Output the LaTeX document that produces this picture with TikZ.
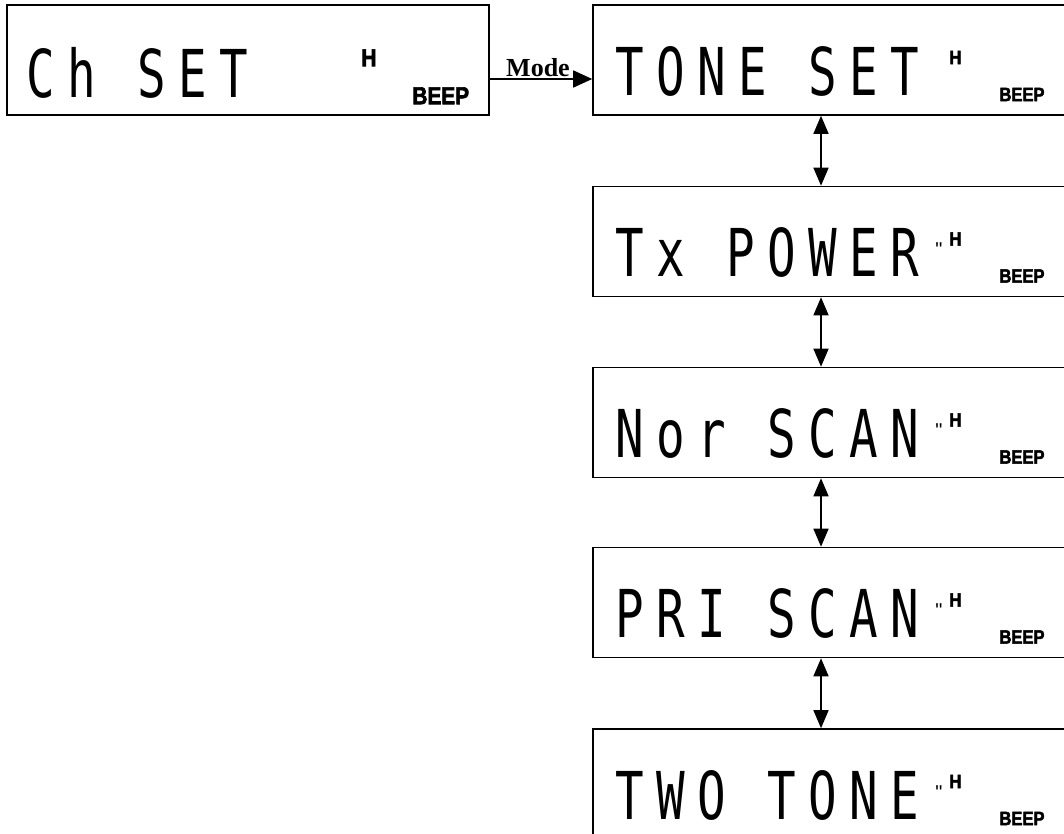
\documentclass[tikz,border=0pt]{standalone}
\usepackage{fontspec}
\setmainfont{Liberation Serif}
\newfontfamily\lcdfont[FakeStretch=0.72,LetterSpace=19]{DejaVu Sans Mono}
\newfontfamily\indfont[FakeStretch=0.85,FakeBold=2.5]{Liberation Sans Bold}
\newfontfamily\tickfont{Liberation Sans}
\usetikzlibrary{arrows.meta,calc}
\begin{document}
\begin{tikzpicture}[x=1pt,y=-1pt,
  lcdbox/.style={draw, line width=1.6pt, rectangle, minimum width=482pt, minimum height=110pt, inner sep=0pt},
  lcdtext/.style={anchor=base west, inner sep=0pt, font=\lcdfont\fontsize{66}{66}\selectfont},
  bigind/.style={anchor=base west, inner sep=0pt, font=\indfont\fontsize{24.5}{25}\selectfont},
  smallind/.style={anchor=base west, inner sep=0pt, font=\indfont\fontsize{19.5}{20}\selectfont},
  tick/.style={anchor=base west, inner sep=0pt, font=\tickfont\fontsize{20}{20}\selectfont},
  modelabel/.style={anchor=base west, inner sep=0pt, font=\bfseries\fontsize{26}{26}\selectfont},
  link/.style={line width=1.6pt, -{Triangle[length=19pt,width=17pt]}},
  dlink/.style={line width=1.6pt, {Triangle[length=18pt,width=15pt]}-{Triangle[length=18pt,width=15pt]}},
]
\useasboundingbox (0,0) rectangle (1064,834);
\clip (0,0) rectangle (1064,834);
\fill[white] (0,0) rectangle (1064,834);

% boxes
\node[lcdbox] (b1) at (248,60) {};
\node[lcdbox] (bA) at (834,60) {};
\node[lcdbox] (bB) at (834,241.5) {};
\node[lcdbox] (bC) at (834,422.5) {};
\node[lcdbox] (bD) at (834,602.5) {};
\node[lcdbox] (bE) at (834,784) {};

% left box contents
\node[lcdtext] (t1) at ($(b1.north west)+(20,93)$) {Ch SET};
\node[bigind] (h1) at ($(b1.north west)+(355,62)$) {H};
\node[bigind] (e1) at ($(b1.north west)+(406,100)$) {BEEP};

% right boxes contents
\foreach \b/\txt/\tk in {bA/TONE SET/0, bB/Tx POWER/1, bC/Nor SCAN/1, bD/PRI SCAN/1, bE/TWO TONE/1}{
  \node[lcdtext] (t\b) at ($(\b.north west)+(23,91)$) {\txt};
  \node[smallind] (h\b) at ($(\b.north west)+(357,60)$) {H};
  \node[smallind] (e\b) at ($(\b.north west)+(407,97)$) {BEEP};
  \ifnum\tk=1
    \node[tick] (k\b) at ($(\b.north west)+(343,71)$) {"};
  \fi
}

% Mode connector
\node[modelabel] (mode) at (506,77) {Mode};
\draw[link] ($(b1.east)+(0,19)$) -- ($(bA.west)+(0,19)$);

% vertical double arrows
\draw[dlink] ($(bA.south)+(-13,0)$) -- ($(bB.north)+(-13,0)$);
\draw[dlink] ($(bB.south)+(-13,0)$) -- ($(bC.north)+(-13,0)$);
\draw[dlink] ($(bC.south)+(-13,0)$) -- ($(bD.north)+(-13,0)$);
\draw[dlink] ($(bD.south)+(-13,0)$) -- ($(bE.north)+(-13,0)$);
\end{tikzpicture}
\end{document}
